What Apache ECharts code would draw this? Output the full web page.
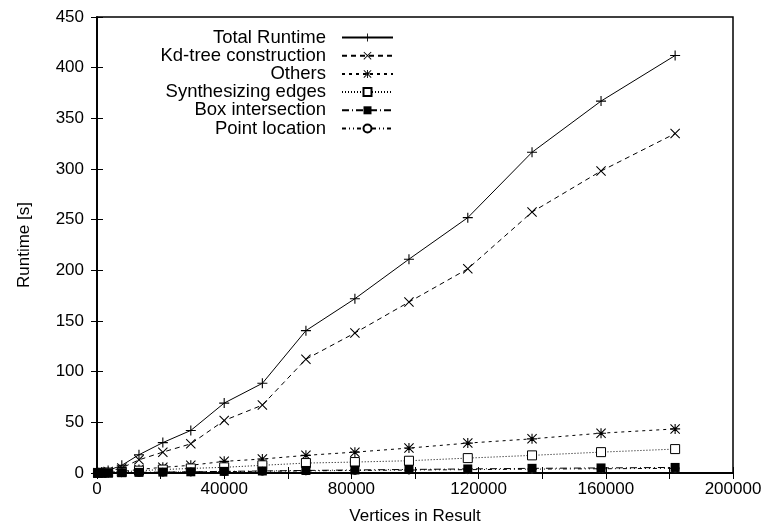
<!DOCTYPE html>
<html>
<head>
<meta charset="utf-8">
<script src="https://cdn.jsdelivr.net/npm/echarts@6/dist/echarts.min.js"></script>
<style>html,body{margin:0;padding:0;background:#fff;}#c{width:770px;height:530px;}</style>
</head>
<body>
<div id="c"></div>
<script>
// ---- data ----
const vertices = [300, 1500, 3500, 7800, 13200, 20700, 29500, 40000, 52000, 65700, 81100, 98100, 116600, 136800, 158500, 181800];
const totalRuntime = [0.3, 1, 2.5, 7.6, 18, 30, 42, 69, 88.5, 140.5, 172, 211, 252, 316.5, 367, 412];
const kdTree = [0.2, 0.6, 1.5, 5, 13, 20.6, 28.8, 51.8, 67, 112.3, 138.2, 168.7, 201.5, 257.5, 298, 335];
const others = [0.1, 0.3, 0.6, 1.5, 3.5, 5.6, 7.6, 11.5, 13.8, 17.4, 20.6, 24.6, 29.5, 33.7, 39.3, 43.5];
const synthEdges = [0.05, 0.2, 0.4, 1, 2.3, 3.4, 4.5, 5.6, 7.6, 9.8, 10.8, 12.1, 14.7, 17.4, 20.6, 23.6];
const boxIntersection = [0, 0.05, 0.1, 0.3, 0.6, 0.9, 1.2, 1.6, 2, 2.5, 3.0, 3.5, 4.0, 4.6, 5.0, 5.5];
const pointLocation = [0, 0.04, 0.08, 0.25, 0.5, 0.75, 1.0, 1.3, 1.7, 2.1, 2.5, 2.9, 3.3, 3.8, 4.2, 4.6];
const seriesNames = ['Total Runtime', 'Kd-tree construction', 'Others', 'Synthesizing edges', 'Box intersection', 'Point location'];
const xTitle = 'Vertices in Result';
const yTitle = 'Runtime [s]';

// ---- marker shapes ----
const PLUS = 'path://M4.45,0H5.55V4.45H10V5.55H5.55V10H4.45V5.55H0V4.45H4.45Z';
const CROSS = 'path://M0,0.75L0.75,0L5,4.25L9.25,0L10,0.75L5.75,5L10,9.25L9.25,10L5,5.75L0.75,10L0,9.25L4.25,5Z';
const STAR = 'path://M4.45,0H5.55V4.45H10V5.55H5.55V10H4.45V5.55H0V4.45H4.45Z M0,0.75L0.75,0L5,4.25L9.25,0L10,0.75L5.75,5L10,9.25L9.25,10L5,5.75L0.75,10L0,9.25L4.25,5Z';

const FONT = 'Liberation Sans, Arial, Helvetica, sans-serif';
const pair = ys => vertices.map((x, i) => [x, ys[i]]);

function mk(name, ys, dash, symbol, size, fill, z) {
  return {
    name: name, type: 'line', data: pair(ys), z: z,
    symbol: symbol, symbolSize: size,
    lineStyle: { color: '#000', width: 1, type: dash },
    itemStyle: { color: fill, borderColor: '#000', borderWidth: (fill === '#fff') ? 1 : 0 },
    emphasis: { disabled: true },
    animation: false
  };
}

const chart = echarts.init(document.getElementById('c'), null, { renderer: 'canvas' });
const tickStyle = { show: true, inside: true, length: 6, lineStyle: { color: '#000', width: 1 } };
const axisLn = { show: true, lineStyle: { color: '#000', width: 1.5 } };
chart.setOption({
  backgroundColor: '#fff',
  animation: false,
  grid: { left: 97, right: 37, top: 17, bottom: 55, show: true, borderColor: '#000', borderWidth: 1.5, backgroundColor: 'transparent' },
  legend: {
    orient: 'vertical', align: 'right', right: 376, top: 28, padding: 0,
    itemWidth: 51, itemHeight: 10, itemGap: -0.8,
    textStyle: { fontFamily: FONT, fontSize: 18.5, color: '#000', lineHeight: 17.3, padding: [0, 11, 0, 0] },
    data: seriesNames
  },
  xAxis: [{
    type: 'value', min: 0, max: 200000, interval: 20000,
    name: xTitle, nameLocation: 'middle', nameGap: 35,
    nameTextStyle: { fontFamily: FONT, fontSize: 17, color: '#000' },
    axisLine: axisLn,
    axisTick: tickStyle,
    axisLabel: { margin: 8, fontFamily: FONT, fontSize: 17, color: '#000', formatter: v => (v % 40000 === 0 ? String(v) : '') },
    splitLine: { show: false }
  }, {
    type: 'value', min: 0, max: 200000, interval: 20000, position: 'top',
    axisLine: axisLn,
    axisTick: tickStyle, axisLabel: { show: false }, splitLine: { show: false }
  }],
  yAxis: [{
    type: 'value', min: 0, max: 450, interval: 50,
    name: yTitle, nameLocation: 'middle', nameGap: 64, nameRotate: 90,
    nameTextStyle: { fontFamily: FONT, fontSize: 17, color: '#000' },
    axisLine: axisLn,
    axisTick: tickStyle,
    axisLabel: { margin: 13, fontFamily: FONT, fontSize: 17, color: '#000' },
    splitLine: { show: false }
  }, {
    type: 'value', min: 0, max: 450, interval: 50, position: 'right',
    axisLine: axisLn,
    axisTick: tickStyle, axisLabel: { show: false }, splitLine: { show: false }
  }],
  series: [
    mk(seriesNames[0], totalRuntime, 'solid', PLUS, 10, '#000', 2),
    mk(seriesNames[1], kdTree, [5, 4], CROSS, 10, '#000', 2),
    mk(seriesNames[2], others, [3, 4], STAR, 10, '#000', 2),
    mk(seriesNames[3], synthEdges, [1, 2], 'rect', 9, '#fff', 2),
    mk(seriesNames[4], boxIntersection, [7, 3, 1, 3], 'rect', 9, '#000', 4),
    mk(seriesNames[5], pointLocation, [4, 3, 1, 3, 1, 3], 'circle', 8, '#fff', 3)
  ]
});
</script>
</body>
</html>
